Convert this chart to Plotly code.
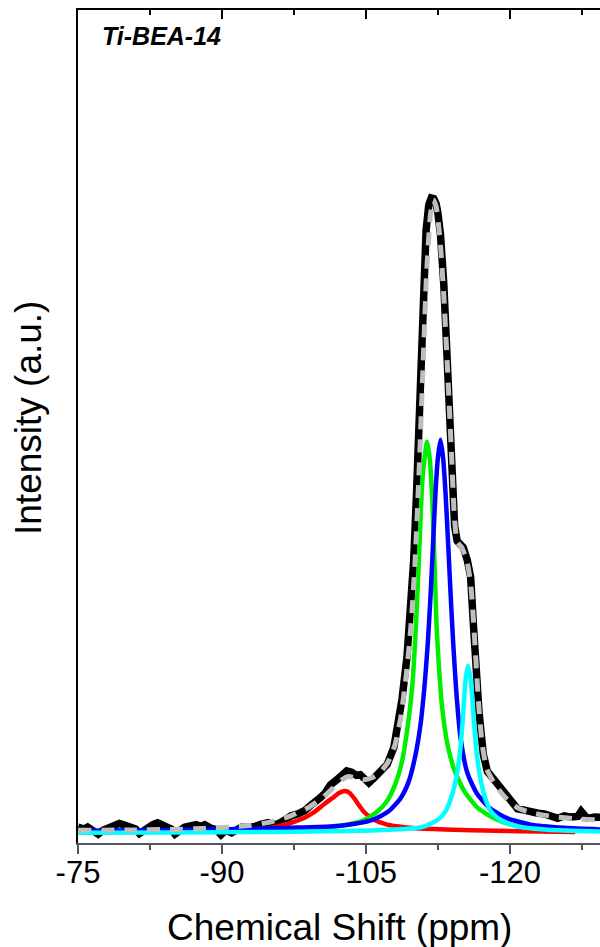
import plotly.graph_objects as go

# ---------------- data ----------------
exp_ppm = [-75.0, -75.6, -76.0, -76.6, -77.1, -77.6, -78.1, -78.8, -79.3, -79.9,
           -80.6, -81.0, -81.4, -81.8, -82.3, -82.8, -83.3, -83.8, -84.4, -84.7,
           -85.1, -85.6, -86.1, -86.7, -87.3, -87.8, -88.2, -88.9, -89.4, -89.9,
           -90.4, -91.0, -91.5, -92.0, -92.7, -93.4, -94.1, -94.8, -95.3, -95.8,
           -96.5, -97.2, -97.9, -98.6, -99.2, -99.7, -100.2, -100.7, -101.3, -101.9,
           -102.5, -103.0, -103.5, -104.0, -104.4, -104.9, -105.3, -105.8, -106.4, -107.2,
           -107.9, -108.2, -108.75, -109.27, -109.62, -109.97, -110.25, -110.49, -110.74, -111.02,
           -111.26, -111.54, -111.8, -112.06, -112.3, -112.48, -112.76, -113.11, -113.46, -113.74,
           -113.98, -114.23, -114.5, -114.8, -115.13, -115.55, -115.9, -116.18, -116.42, -116.77,
           -117.22, -117.64, -118.34, -119.04, -119.6, -120.08, -120.78, -121.5, -122.18, -122.9,
           -123.57, -124.3, -124.97, -125.67, -126.3, -127.06, -127.41, -127.8, -128.11, -128.8,
           -129.5, -130.0]
exp_int = [0.9, 0.6, 0.9, 0.4, -0.2, 0.4, 0.7, 1.1, 1.5, 1.2,
           0.9, 0.6, -0.1, 0.4, 0.8, 1.3, 1.6, 1.2, 0.9, 0.6,
           -0.2, 0.4, 0.9, 1.1, 1.3, 1.0, 1.3, 0.7, 0.5, -0.3,
           0.4, 0.0, 0.5, 0.9, 0.9, 1.0, 1.4, 1.6, 1.3, 1.4,
           2.0, 2.7, 3.0, 3.5, 4.3, 5.1, 5.5, 6.2, 7.6, 8.3,
           9.2, 9.8, 9.6, 9.1, 9.2, 8.3, 7.9, 8.6, 9.4, 10.8,
           13.5, 15.7, 21.1, 27.8, 34.4, 43.1, 53.1, 63.1, 75.2, 85.9,
           95.2, 99.2, 100.3, 100.2, 99.4, 98.0, 94.5, 86.5, 74.5, 65.8,
           56.5, 48.5, 46.1, 45.6, 45.1, 43.1, 40.4, 33.1, 26.4, 19.1,
           12.4, 9.7, 8.4, 7.1, 6.0, 5.1, 3.8, 3.6, 3.3, 3.1,
           3.0, 2.7, 2.3, 2.7, 2.5, 2.6, 3.4, 2.7, 2.3, 2.5,
           2.3, 2.4]

fit_ppm = [-75.0, -80.0, -85.0, -88.0, -91.0, -93.0, -95.0, -97.0, -99.0, -100.5,
           -101.5, -102.5, -103.2, -104.0, -104.8, -105.6, -106.5, -107.3, -108.0, -108.6,
           -109.2, -109.7, -110.1, -110.5, -110.9, -111.3, -111.7, -112.0, -112.3, -112.7,
           -113.1, -113.5, -113.9, -114.2, -114.5, -115.0, -115.5, -115.9, -116.3, -116.7,
           -117.1, -117.6, -118.3, -119.0, -120.0, -121.0, -122.2, -123.5, -125.0, -127.0,
           -130.0]
fit_int = [0.4, 0.45, 0.55, 0.7, 0.9, 1.2, 1.7, 2.6, 4.0, 5.6,
           7.0, 8.4, 8.9, 8.7, 8.4, 8.7, 9.6, 11.2, 13.8, 18.0,
           25.0, 33.0, 42.5, 56.0, 72.0, 88.0, 97.5, 100.0, 99.0, 94.0,
           85.0, 73.0, 60.0, 50.0, 46.0, 45.0, 43.0, 39.5, 31.0, 21.0,
           14.0, 10.0, 8.0, 6.5, 4.8, 3.8, 3.2, 2.8, 2.5, 2.2,
           2.0]

red_ppm = [-92.0, -94.0, -95.8, -97.2, -98.6, -99.7, -100.7, -101.5, -102.2, -102.8,
           -103.3, -103.8, -104.3, -104.8, -105.8, -107.2, -109.0, -112.0, -116.0, -121.0,
           -126.8]
red_int = [0.15, 0.5, 1.0, 1.6, 2.4, 3.4, 4.6, 5.5, 6.3, 6.6,
           6.3, 5.4, 4.3, 3.3, 2.1, 1.3, 0.9, 0.6, 0.4, 0.25,
           0.15]

green_ppm = [-95.0, -98.0, -101.25, -103.0, -104.74, -106.13, -107.18, -108.05, -108.75, -109.34,
             -109.8, -110.14, -110.39, -110.6, -110.84, -111.09, -111.37, -111.64, -111.89, -112.13,
             -112.34, -112.59, -112.93, -113.46, -114.16, -115.2, -116.6, -118.34, -120.1, -122.2,
             -125.0, -128.0]
green_int = [0.5, 0.7, 0.9, 1.3, 2.0, 3.3, 5.0, 7.7, 11.3, 16.8,
             22.8, 30.9, 39.0, 46.4, 55.0, 59.1, 61.8, 59.1, 53.1, 43.1,
             33.1, 26.4, 19.8, 14.2, 10.1, 6.7, 4.0, 2.3, 1.3, 0.8,
             0.5, 0.35]

blue_ppm = [-75.0, -85.0, -92.0, -97.0, -101.25, -103.69, -105.78, -107.35, -108.57, -109.45,
            -110.14, -110.67, -111.09, -111.43, -111.71, -111.99, -112.24, -112.48, -112.76, -113.04,
            -113.28, -113.53, -113.81, -114.09, -114.43, -114.85, -115.55, -116.6, -117.99, -119.74,
            -122.18, -125.67, -130.0]
blue_int = [0.35, 0.45, 0.6, 0.8, 1.0, 1.4, 2.1, 3.4, 5.4, 8.1,
            12.2, 17.0, 23.1, 29.8, 37.1, 45.8, 53.8, 59.1, 62.1, 59.1,
            53.8, 46.5, 37.8, 29.8, 21.8, 15.0, 9.5, 6.1, 3.8, 2.3,
            1.3, 0.8, 0.5]

cyan_ppm = [-75.0, -85.0, -95.0, -101.0, -104.74, -108.92, -111.02, -112.41, -113.28, -113.98,
            -114.5, -114.85, -115.13, -115.38, -115.62, -115.9, -116.18, -116.46, -116.81, -117.29,
            -117.99, -119.04, -120.78, -123.92, -130.0]
cyan_int = [0.0, 0.05, 0.15, 0.25, 0.35, 0.6, 1.0, 2.0, 3.4, 6.1,
            9.5, 13.6, 19.0, 24.3, 26.4, 24.3, 19.0, 13.6, 9.5, 6.1,
            3.4, 2.0, 1.0, 0.5, 0.2]

x_ticks = [-75, -90, -105, -120]
x_tick_text = ["-75", "-90", "-105", "-120"]
x_range = [-75, -129.375]
y_range = [-1.6, 130.0]

sample_label = "Ti-BEA-14"
x_title = "Chemical Shift (ppm)"
y_title = "Intensity (a.u.)"

FONT = "Liberation Sans, Arial, sans-serif"

# ---------------- figure ----------------
fig = go.Figure()
fig.add_trace(go.Scatter(x=exp_ppm, y=exp_int, mode="lines",
                         line=dict(color="black", width=7.5), showlegend=False, hoverinfo="skip"))
comp_style = dict(width=4.5, shape="spline", smoothing=0.6)
fig.add_trace(go.Scatter(x=red_ppm, y=red_int, mode="lines",
                         line=dict(color="#FF0000", **comp_style), showlegend=False))
fig.add_trace(go.Scatter(x=green_ppm, y=green_int, mode="lines",
                         line=dict(color="#00EE00", **comp_style), showlegend=False))
fig.add_trace(go.Scatter(x=blue_ppm, y=blue_int, mode="lines",
                         line=dict(color="#0000FF", **comp_style), showlegend=False))
fig.add_trace(go.Scatter(x=cyan_ppm, y=cyan_int, mode="lines",
                         line=dict(color="#00FFFF", **comp_style), showlegend=False))
fig.add_trace(go.Scatter(x=fit_ppm, y=fit_int, mode="lines",
                         line=dict(color="#BEBEBE", width=5, dash="13px,10px", shape="spline", smoothing=0.5),
                         showlegend=False))
# empty trace to register the mirrored top axis
fig.add_trace(go.Scatter(x=[], y=[], xaxis="x2", showlegend=False, hoverinfo="skip"))

FIG_W, FIG_H = 600, 947
plot_left = 78
plot_top = 10
plot_bottom = 843
plot_h = plot_bottom - plot_top

fig.update_layout(
    width=FIG_W, height=FIG_H,
    margin=dict(l=plot_left, r=0, t=plot_top, b=FIG_H - plot_bottom),
    paper_bgcolor="white", plot_bgcolor="white",
    font=dict(family=FONT, color="black"),
    xaxis=dict(range=x_range, tickvals=x_ticks, ticktext=x_tick_text, automargin=False,
               showline=True, linecolor="#555555", linewidth=1.5,
               ticks="outside", ticklen=9, tickwidth=1.5, tickcolor="#555555",
               minor=dict(dtick=7.5, tick0=-75, ticks="outside", ticklen=5, tickwidth=1.5, tickcolor="#555555"),
               showgrid=False, zeroline=False, ticklabelstandoff=-8,
               tickfont=dict(size=31, family=FONT, color="black")),
    xaxis2=dict(range=x_range, overlaying="x", side="top", anchor="y", matches="x", automargin=False,
                showline=True, linecolor="black", linewidth=2,
                ticks="inside", ticklen=9, tickwidth=1.5, tickcolor="black",
                tickvals=x_ticks, showticklabels=False,
                minor=dict(dtick=7.5, tick0=-75, ticks="inside", ticklen=5, tickwidth=1.5, tickcolor="black"),
                showgrid=False, zeroline=False),
    yaxis=dict(range=y_range, showline=True, linecolor="black", linewidth=1.5, automargin=False,
               ticks="", showticklabels=False, showgrid=False, zeroline=False),
    annotations=[
        dict(text="<b><i>" + sample_label + "</i></b>", xref="paper", yref="paper",
             x=0, y=1, xanchor="left", yanchor="middle", xshift=22, yshift=-26,
             showarrow=False, font=dict(size=25, family=FONT, color="black")),
        dict(text=x_title, xref="paper", yref="paper", x=0.5, y=0,
             xanchor="center", yanchor="middle", yshift=-84,
             showarrow=False, font=dict(size=37, family=FONT, color="black")),
        dict(text=y_title, xref="paper", yref="paper", x=0, y=(plot_bottom - 418) / plot_h,
             xanchor="center", yanchor="middle", xshift=-50, textangle=-90,
             showarrow=False, font=dict(size=37, family=FONT, color="black")),
    ],
)

# remove the page's default 8px body margin so the figure fills the window exactly
fig.write_html("out.html",
               config={"displayModeBar": False},
               post_script="document.body.style.margin='0';document.body.style.overflow='hidden';")
